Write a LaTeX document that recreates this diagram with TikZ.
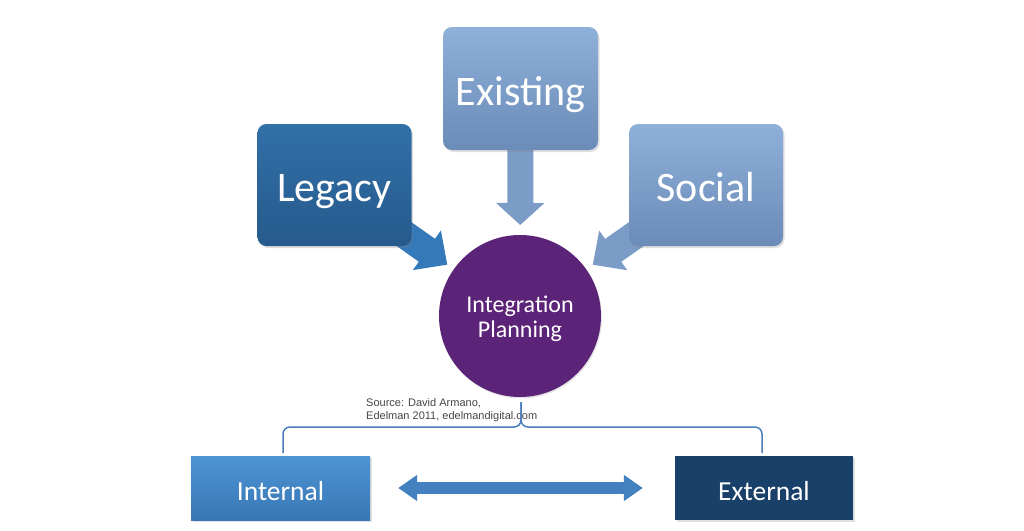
\documentclass[tikz,border=0pt]{standalone}
\usepackage{fontspec}
\setmainfont{Carlito}
\newfontfamily\srcfont{Liberation Sans}
\usetikzlibrary{arrows.meta,shadows}
\definecolor{legT}{RGB}{49,112,168}
\definecolor{legB}{RGB}{38,90,140}
\definecolor{lightT}{RGB}{142,176,217}
\definecolor{lightB}{RGB}{107,139,184}
\definecolor{legArrow}{RGB}{52,121,186}
\definecolor{lightArrow}{RGB}{124,156,200}
\definecolor{purp}{RGB}{92,36,121}
\definecolor{intT}{RGB}{76,148,212}
\definecolor{intB}{RGB}{57,119,181}
\definecolor{extC}{RGB}{24,64,104}
\definecolor{dblArrow}{RGB}{66,128,192}
\definecolor{braceC}{RGB}{74,126,187}
\definecolor{srcC}{RGB}{70,70,70}
\tikzset{
  topbox/.style={rounded corners=9pt, minimum width=154pt, minimum height=122pt, inner sep=0pt,
     text=white, font=\fontsize{42}{48}\selectfont, text height=33pt, text depth=0pt,
     drop shadow={opacity=0.25, shadow xshift=1.5pt, shadow yshift=-2pt}},
  botbox/.style={minimum width=179pt, minimum height=64pt, inner sep=0pt,
     text=white, font=\fontsize{27.5}{32}\selectfont, text height=24pt, text depth=0pt,
     drop shadow={opacity=0.25, shadow xshift=1.5pt, shadow yshift=-2pt}},
  blockarrow/.style={line width=28pt, -{Triangle[width=47pt,length=25pt]}},
}
\begin{document}
\begin{tikzpicture}[x=1pt,y=-1pt]
\useasboundingbox (0,0) rectangle (1024,530);
\fill[white] (0,0) rectangle (1024,530);

% coordinates of node centres
\coordinate (lc) at (334.5,185);
\coordinate (ec) at (520.5,88.5);
\coordinate (sc) at (706,185);
\coordinate (cc) at (520,316);

% block arrows (behind boxes)
\draw[blockarrow, legArrow, shorten >=89pt] (lc) -- (cc);
\draw[blockarrow, lightArrow, shorten >=89pt] (sc) -- (cc);
\draw[line width=26pt, -{Triangle[width=47pt,length=22pt]}, lightArrow, shorten >=91pt] (ec) -- (cc);

% top boxes
\node[topbox, top color=legT, bottom color=legB] (legacy) at (lc) {Legacy};
\node[topbox, top color=lightT, bottom color=lightB, minimum width=155pt, minimum height=123pt] (existing) at (ec) {Existing};
\node[topbox, top color=lightT, bottom color=lightB] (social) at (sc) {Social};

% circle
\node[circle, fill=purp, minimum size=162pt, inner sep=0pt,
      drop shadow={opacity=0.2, shadow xshift=1pt, shadow yshift=-1.5pt}] (circ) at (cc) {};
\node[text=white, align=center, inner sep=0pt, font=\fontsize{24}{25.5}\selectfont]
      (circtext) at ([yshift=-3pt]circ.center) {Integration\\Planning};

% source text
\node[anchor=north west, align=left, inner sep=0pt, text=srcC,
      font=\srcfont\fontsize{11}{13}\selectfont] (src) at (366,398)
      {Source: David Armano,\\Edelman 2011, edelmandigital.com};

% bottom boxes
\node[botbox, top color=intT, bottom color=intB] (internal) at (280.5,488) {Internal};
\node[botbox, fill=extC, minimum width=178pt] (external) at (764,488) {External};

% brace
\coordinate (bl) at (283,453);
\coordinate (br) at (762,453);
\coordinate (bm) at (521,402);
\draw[braceC, line width=1.5pt, rounded corners=7pt]
  (bl) -- (283,427) -- (521,427) -- (bm);
\draw[braceC, line width=1.5pt, rounded corners=7pt]
  (br) -- (762,427) -- (521,427) -- (bm);

% double arrow
\draw[dblArrow, line width=12pt, {Triangle[width=25pt,length=19pt]}-{Triangle[width=25pt,length=19pt]},
      shorten <=28pt, shorten >=32pt] (internal) -- (external);
\end{tikzpicture}
\end{document}
